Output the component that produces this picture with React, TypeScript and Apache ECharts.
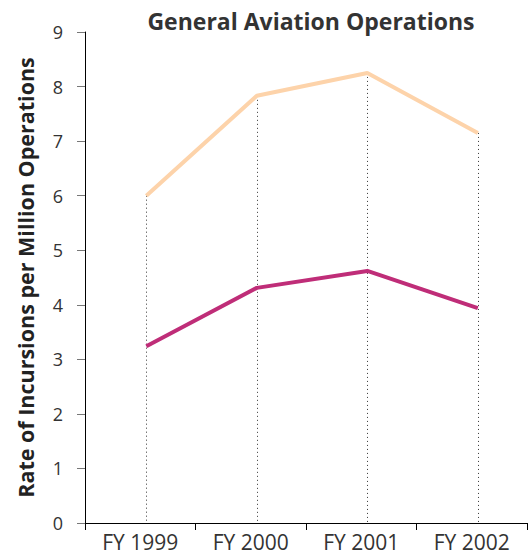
import React, { useEffect, useRef } from "react";
import * as echarts from "echarts";

const years = ["FY 1999", "FY 2000", "FY 2001", "FY 2002"];
const upperRates = [6.0, 7.83, 8.25, 7.15];
const lowerRates = [3.24, 4.31, 4.62, 3.94];
const yTicks = [0, 1, 2, 3, 4, 5, 6, 7, 8, 9];

const FONT = "'Open Sans', 'Noto Sans', sans-serif";
// points sit slightly right of each band's centre
const POINT_SHIFT = 0.055;

export default function App() {
  const ref = useRef<HTMLDivElement>(null);

  useEffect(() => {
    if (!ref.current) return;
    const chart = echarts.init(ref.current, null, { renderer: "svg" });

    const upperData = upperRates.map((v, i) => [i, v]);
    const lowerData = lowerRates.map((v, i) => [i, v]);

    // dotted drop line from each year's higher value down to the baseline
    const dropLines = years.map((_, i) => [
      { coord: [i, Math.max(upperRates[i], lowerRates[i])] },
      { coord: [i, 0] },
    ]);

    chart.setOption({
      animation: false,
      title: {
        text: "General Aviation Operations",
        left: 306,
        top: 4,
        textAlign: "center",
        textStyle: { fontFamily: FONT, fontWeight: "bold", fontSize: 23, color: "#333" },
      },
      grid: { left: 85, right: 4, top: 32, bottom: 35 },
      xAxis: [
        {
          type: "category",
          data: years,
          boundaryGap: true,
          axisLine: { onZero: false, lineStyle: { color: "#000", width: 1 } },
          axisTick: { show: true, length: 7, lineStyle: { color: "#000" } },
          axisLabel: { fontFamily: FONT, fontSize: 21, color: "#333", margin: 8 },
          splitLine: { show: false },
        },
        {
          type: "value",
          min: -0.5 - POINT_SHIFT,
          max: years.length - 0.5 - POINT_SHIFT,
          show: false,
          position: "bottom",
          axisLine: { onZero: false },
          splitLine: { show: false },
        },
      ],
      yAxis: {
        type: "value",
        min: yTicks[0],
        max: yTicks[yTicks.length - 1],
        interval: 1,
        name: "Rate of Incursions per Million Operations",
        nameLocation: "middle",
        nameGap: 49,
        nameRotate: 90,
        nameTextStyle: { fontFamily: FONT, fontWeight: "bold", fontSize: 21.5, color: "#222" },
        axisLine: { show: true, onZero: false, lineStyle: { color: "#000", width: 1 } },
        axisTick: { show: true, length: 8, lineStyle: { color: "#777" } },
        axisLabel: { fontFamily: FONT, fontSize: 18, color: "#333", margin: 22 },
        splitLine: { show: false },
      },
      series: [
        {
          type: "line",
          xAxisIndex: 1,
          data: upperData,
          symbol: "none",
          lineStyle: { color: "#FDD3AA", width: 4 },
          z: 3,
          markLine: {
            silent: true,
            symbol: "none",
            label: { show: false },
            lineStyle: { color: "#333", type: [1, 3], width: 1 },
            data: dropLines,
            z: 1,
          },
        },
        {
          type: "line",
          xAxisIndex: 1,
          data: lowerData,
          symbol: "none",
          lineStyle: { color: "#BF2D78", width: 4 },
          z: 4,
        },
      ],
    });

    return () => chart.dispose();
  }, []);

  return <div ref={ref} style={{ width: 531, height: 558, position: "absolute", left: 0, top: 0 }} />;
}
